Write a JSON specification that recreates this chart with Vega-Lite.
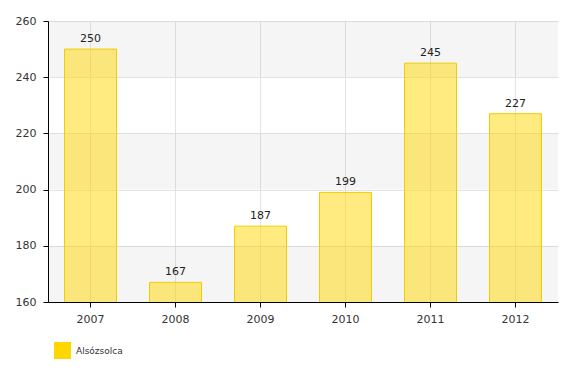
{
  "$schema": "https://vega.github.io/schema/vega-lite/v6.json",
  "width": 510,
  "height": 281,
  "autosize": {"type": "none"},
  "padding": {"left": 48, "top": 21, "right": 21, "bottom": 68},
  "background": "white",
  "config": {
    "view": {"stroke": null},
    "font": "DejaVu Sans",
    "axis": {"labelFont": "DejaVu Sans", "labelFontSize": 11, "labelColor": "#333", "domainColor": "#000", "tickColor": "#000", "gridColor": "#e4e4e4", "title": null}
  },
  "datasets": {
    "bars": [
      {"year": "2007", "value": 250, "series": "Alsózsolca"},
      {"year": "2008", "value": 167, "series": "Alsózsolca"},
      {"year": "2009", "value": 187, "series": "Alsózsolca"},
      {"year": "2010", "value": 199, "series": "Alsózsolca"},
      {"year": "2011", "value": 245, "series": "Alsózsolca"},
      {"year": "2012", "value": 227, "series": "Alsózsolca"}
    ],
    "bands": [
      {"lo": 240, "hi": 260},
      {"lo": 200, "hi": 220},
      {"lo": 160, "hi": 180}
    ]
  },
  "layer": [
    {
      "data": {"name": "bands"},
      "mark": {"type": "rect", "fill": "#000", "fillOpacity": 0.04},
      "encoding": {
        "y": {"field": "lo", "type": "quantitative", "scale": {"domain": [160, 260], "zero": false, "nice": false},
          "axis": {"values": [160, 180, 200, 220, 240, 260], "tickSize": 5, "labelPadding": 7, "grid": true, "domain": true}},
        "y2": {"field": "hi"}
      }
    },
    {
      "data": {"name": "bars"},
      "mark": {"type": "bar", "fill": "#ffd700", "fillOpacity": 0.5, "stroke": "#f2cc00", "strokeWidth": 1, "clip": true},
      "encoding": {
        "x": {"field": "year", "type": "nominal", "sort": null,
          "scale": {"paddingInner": 0.388, "paddingOuter": 0.194},
          "axis": {"labelAngle": 0, "grid": true, "bandPosition": 0.5, "tickSize": 5, "labelPadding": 6, "domainColor": "#000"}},
        "y": {"field": "value", "type": "quantitative"},
        "color": {"field": "series", "type": "nominal", "scale": {"range": ["#ffd700"]},
          "legend": {"title": null, "orient": "none", "legendX": 6, "legendY": 321, "symbolType": "square", "symbolSize": 289, "symbolOpacity": 1, "symbolStrokeWidth": 0, "symbolFillColor": "#fcd400", "labelFontSize": 9, "labelColor": "#333", "labelFont": "DejaVu Sans", "labelOffset": 5}}
      }
    },
    {
      "data": {"name": "bars"},
      "mark": {"type": "text", "dy": -10, "fontSize": 11, "color": "#222", "font": "DejaVu Sans"},
      "encoding": {
        "x": {"field": "year", "type": "nominal", "sort": null},
        "y": {"field": "value", "type": "quantitative"},
        "text": {"field": "value", "type": "quantitative"}
      }
    }
  ]
}
